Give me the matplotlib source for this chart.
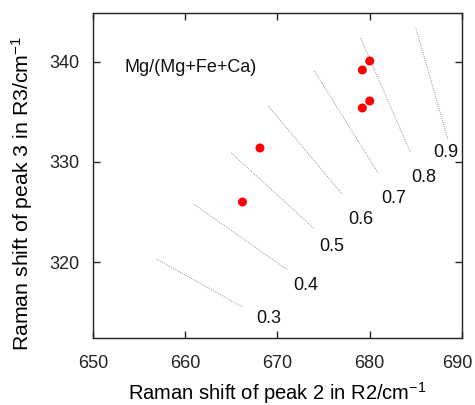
import matplotlib
matplotlib.use("Agg")
import matplotlib.pyplot as plt
from matplotlib.transforms import ScaledTranslation

plt.rcParams['font.family'] = ['Liberation Sans', 'DejaVu Sans']
plt.rcParams['mathtext.fontset'] = 'custom'
plt.rcParams['mathtext.rm'] = 'Liberation Sans'
plt.rcParams['mathtext.it'] = 'Liberation Sans'
plt.rcParams['mathtext.default'] = 'regular'

# Data points
peak2 = [680.0, 679.2, 680.0, 679.2, 668.1, 666.2]
peak3 = [340.1, 339.2, 336.1, 335.4, 331.4, 326.0]

# Iso-composition lines (Mg/(Mg+Fe+Ca))
ratios = ["0.3", "0.4", "0.5", "0.6", "0.7", "0.8", "0.9"]
line_x0 = [656.9, 660.9, 665.0, 669.0, 674.0, 679.0, 685.0]
line_y0 = [320.3, 325.8, 330.9, 335.6, 339.1, 342.4, 343.4]
line_x1 = [666.2, 671.1, 673.9, 677.0, 680.9, 684.4, 688.5]
line_y1 = [315.5, 319.2, 323.4, 326.8, 328.9, 331.0, 332.2]
label_x = [669.1, 673.1, 675.9, 679.0, 682.6, 685.9, 688.3]
label_y = [314.4, 317.7, 321.5, 324.2, 326.3, 328.4, 330.9]

fig = plt.figure(figsize=(4.75, 4.05), dpi=100)
ax = fig.add_axes([0.1958, 0.1654, 0.9726 - 0.1958, 0.968 - 0.1654])

for r, x0, y0, x1, y1, lx, ly in zip(ratios, line_x0, line_y0, line_x1, line_y1, label_x, label_y):
    ax.plot([x0, x1], [y0, y1], linestyle=(0, (1, 1.5)), color='#777777', linewidth=0.6)
    ax.text(lx, ly, r, fontsize=13, ha='center', va='center', color='#111111')

ax.scatter(peak2, peak3, s=42, color='#ff0000', zorder=3, edgecolors='none')

ax.text(653.4, 339.4, "Mg/(Mg+Fe+Ca)", fontsize=13, ha='left', va='center', color='#111111')

ax.set_xlim(650, 690)
ax.set_ylim(312.4, 344.9)
ax.set_xticks([650, 660, 670, 680, 690])
ax.set_yticks([320, 330, 340])
ax.tick_params(direction='in', top=True, right=True, length=5, width=1, labelsize=13, colors='#222222')
ax.tick_params(axis='x', pad=12)
ax.tick_params(axis='y', pad=10)
for s in ax.spines.values():
    s.set_linewidth(1.0)
    s.set_color('#222222')

ax.set_xlabel("Raman shift of peak 2 in R2/cm$^{-1}$", fontsize=14.5, labelpad=6)
ax.set_ylabel("Raman shift of peak 3 in R3/cm$^{-1}$", fontsize=15.3)
ax.yaxis.set_label_coords(-0.157, 0.443)

fig.canvas.draw()
last = ax.xaxis.get_major_ticks()[-1].label1
last.set_transform(last.get_transform() + ScaledTranslation(-5 / 100, 0, fig.dpi_scale_trans))

fig.savefig("out.png", dpi=100)
